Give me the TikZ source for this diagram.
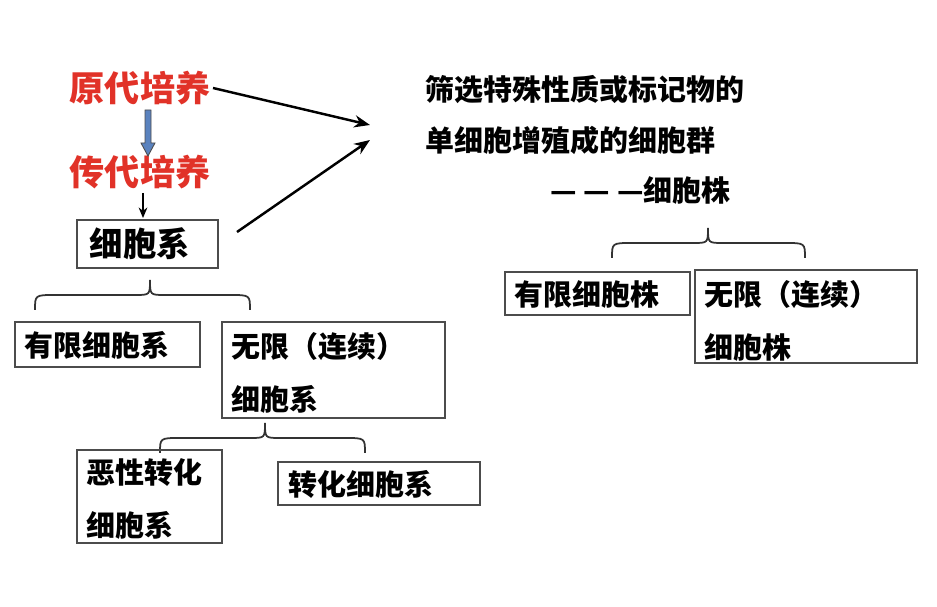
\documentclass[tikz,border=0pt]{standalone}
\usepackage{fontspec}
\setmainfont{Noto Sans CJK SC}
\usetikzlibrary{arrows.meta}
\definecolor{redt}{RGB}{225,50,40}
\definecolor{bluea}{RGB}{90,130,190}
\tikzset{
  box/.style={draw=black!70,line width=0.6pt},
  txt/.style={font=\fontsize{16.5pt}{30pt}\selectfont\bfseries,anchor=west,inner sep=0pt},
  redtxt/.style={font=\fontsize{20pt}{24pt}\selectfont\bfseries,text=redt,inner sep=0pt},
  brace/.style={draw=black!80,line width=1pt},
  arr/.style={-{Stealth[length=9pt,width=7pt]},line width=1.4pt}
}
\newcommand{\mybrace}[4]{% x1 x2 xp ybottom
  \draw[brace] (#1,#4) .. controls (#1,#4-15) .. (#1+20,#4-15) -- (#3-15,#4-15) .. controls (#3,#4-15) .. (#3,#4-30)
    .. controls (#3,#4-15) .. (#3+15,#4-15) -- (#2-20,#4-15) .. controls (#2,#4-15) .. (#2,#4);}
\begin{document}
\begin{tikzpicture}[x=0.02cm,y=-0.02cm]
\useasboundingbox (0,0) rectangle (937,607);
\node[redtxt] (yd) at (140,88) {原代培养};
\node[redtxt] (cd) at (140,172) {传代培养};
\draw[draw=black!70,fill=bluea,line width=0.5pt] (145,110) -- (151,110) -- (151,143) -- (155,143) -- (148,156) -- (141,143) -- (145,143) -- cycle;
\draw[box] (77,220) rectangle (218,268);
\node[font=\fontsize{19pt}{24pt}\selectfont\bfseries,inner sep=0pt] (xbxt) at (140,244) {细胞系};
\coordinate (a1) at (143,193); \coordinate (a2) at (143,218);
\draw[-{Stealth[length=6pt,width=5pt]},line width=0.8pt] (a1) -- (a2);
\coordinate (p1) at (213,88); \coordinate (p2) at (370,125);
\coordinate (q1) at (237,232); \coordinate (q2) at (370,140);
\draw[arr] (p1) -- (p2);
\draw[arr] (q1) -- (q2);
\node[txt] (s1) at (425,90) {筛选特殊性质或标记物的};
\node[txt] (s2) at (425,140) {单细胞增殖成的细胞群};
\node[txt] (s3) at (550,190) {—\hspace{4pt}—\hspace{4pt}—细胞株};
\mybrace{612}{805}{708}{258}
\draw[box] (505,272) rectangle (690,315);
\node[txt] (yxz) at (514,294) {有限细胞株};
\draw[box] (695,270) rectangle (917,363);
\node[txt,align=left,anchor=north west] (wxz) at (704,280) {无限（连续）\\细胞株};
\mybrace{35}{250}{150}{310}
\draw[box] (15,322) rectangle (200,367);
\node[txt] (yxx) at (24,345) {有限细胞系};
\draw[box] (222,322) rectangle (445,418);
\node[txt,align=left,anchor=north west] (wxx) at (231,332) {无限（连续）\\细胞系};
\mybrace{160}{365}{265}{453}
\draw[box] (77,450) rectangle (222,543);
\node[txt,align=left,anchor=north west] (ex) at (86,458) {恶性转化\\细胞系};
\draw[box] (278,462) rectangle (480,505);
\node[txt] (zh) at (288,484) {转化细胞系};
\end{tikzpicture}
\end{document}
